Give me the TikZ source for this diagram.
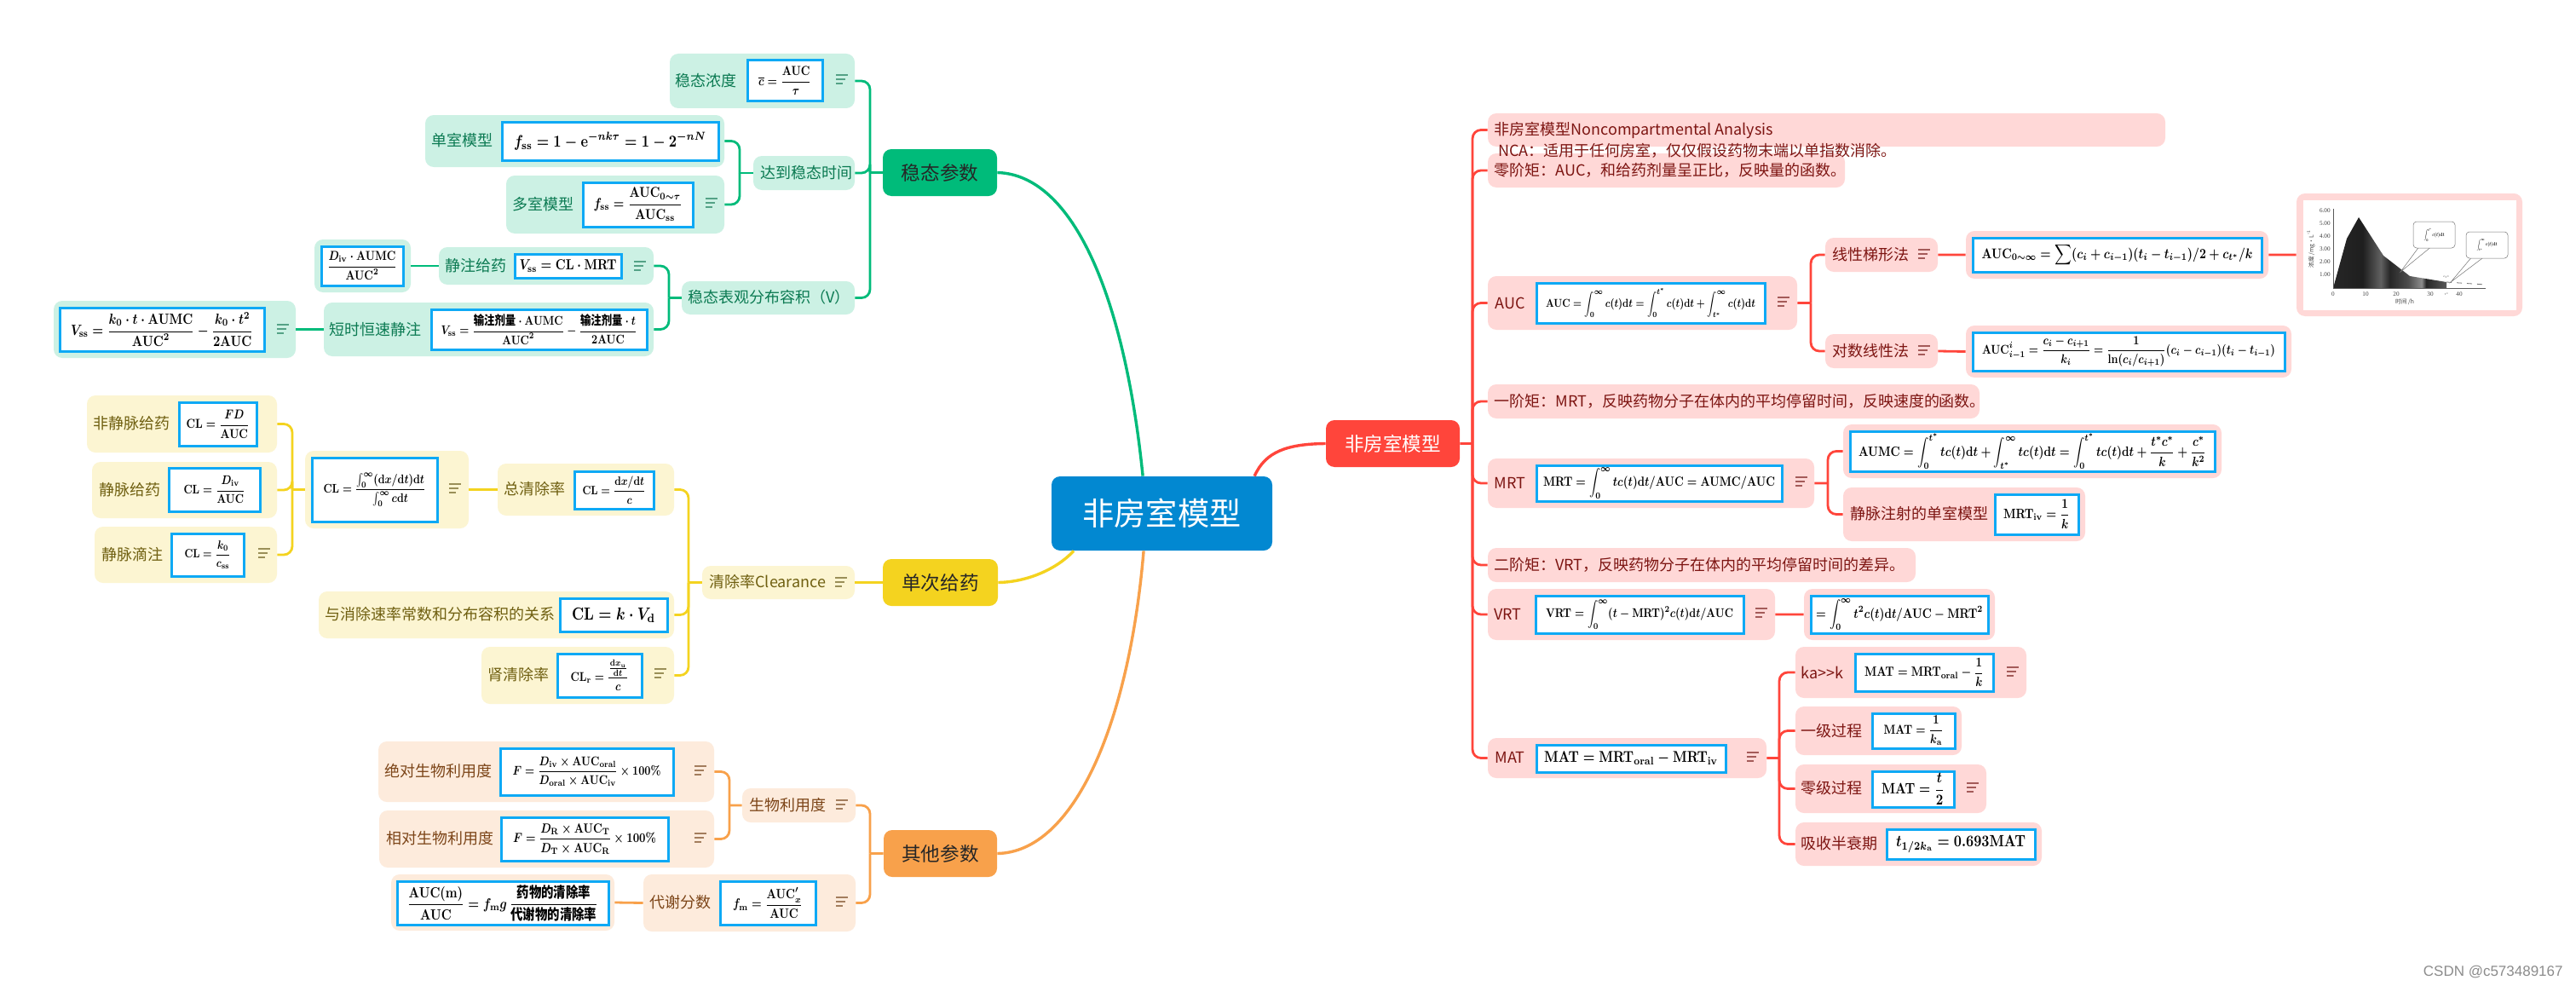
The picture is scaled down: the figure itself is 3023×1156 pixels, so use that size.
\documentclass[tikz,border=0pt]{standalone}
\usepackage[no-math]{fontspec}
\usepackage{amsmath,amssymb,graphicx}
\setmainfont{Noto Sans CJK SC}
\newfontfamily\chartfont{Liberation Serif}
\newfontfamily\markfont{Liberation Sans}
\usetikzlibrary{positioning}

\definecolor{rootblue}{HTML}{0288D1}
\definecolor{boxblue}{HTML}{0EA9F5}
\definecolor{gmaincol}{HTML}{00BB7A}
\definecolor{ymaincol}{HTML}{F4D31F}
\definecolor{omaincol}{HTML}{F8A14B}
\definecolor{rmaincol}{HTML}{FF453B}
\definecolor{gpale}{HTML}{CCF1E4}
\definecolor{ypale}{HTML}{FCF5D2}
\definecolor{opale}{HTML}{FDEBDC}
\definecolor{rpale}{HTML}{FFD8D7}
\definecolor{gtext}{HTML}{0B7A52}
\definecolor{ytext}{HTML}{6F5F10}
\definecolor{otext}{HTML}{7C4518}
\definecolor{rtext}{HTML}{7D1512}

\newcommand{\fml}[2]{\scalebox{1}[1.2]{\resizebox{#1pt}{!}{\boldmath$\displaystyle #2$}}}
\newcommand{\tAUC}{\mathrm{AUC}}
\newcommand{\tAUMC}{\mathrm{AUMC}}
\newcommand{\tCL}{\mathrm{CL}}
\newcommand{\tMRT}{\mathrm{MRT}}
\newcommand{\tMAT}{\mathrm{MAT}}
\newcommand{\tVRT}{\mathrm{VRT}}
\newcommand{\ud}{\mathrm{d}}
\newcommand{\dose}{\mbox{\bfseries 输注剂量}}
\pgfdeclarehorizontalshading{chartband}{100bp}{color(0bp)=(black!85);color(25bp)=(black!85);
  color(38bp)=(black!88);color(46bp)=(black!62);color(50bp)=(black!85);color(58bp)=(black!70);
  color(64bp)=(black!45);color(66bp)=(black!85);color(75bp)=(black!65);color(100bp)=(black!65)}

\tikzstyle{gpill} = [rectangle, fill=gpale, rounded corners=5pt, inner sep=0pt]
\tikzstyle{ypill} = [rectangle, fill=ypale, rounded corners=5pt, inner sep=0pt]
\tikzstyle{opill} = [rectangle, fill=opale, rounded corners=5pt, inner sep=0pt]
\tikzstyle{rpill} = [rectangle, fill=rpale, rounded corners=5pt, inner sep=0pt]
\tikzstyle{fbox} = [rectangle, draw=boxblue, line width=1.5pt, fill=white, inner sep=0pt]
\tikzstyle{mainbox} = [rectangle, rounded corners=5pt, inner sep=0pt,
    font=\fontsize{11.3}{13}\selectfont]
\tikzstyle{glab} = [anchor=west, inner sep=0pt, text=gtext, font=\fontsize{9}{11}\selectfont]
\tikzstyle{ylab} = [anchor=west, inner sep=0pt, text=ytext, font=\fontsize{9}{11}\selectfont]
\tikzstyle{olab} = [anchor=west, inner sep=0pt, text=otext, font=\fontsize{9}{11}\selectfont]
\tikzstyle{rlab} = [anchor=west, inner sep=0pt, text=rtext, font=\fontsize{9}{11}\selectfont]
\tikzstyle{gline} = [draw=gmaincol, line width=1.4pt]
\tikzstyle{yline} = [draw=ymaincol, line width=1.4pt]
\tikzstyle{oline} = [draw=omaincol, line width=1.4pt]
\tikzstyle{rline} = [draw=rmaincol, line width=1.4pt]
\tikzstyle{ticktxt} = [inner sep=0pt, text=black!75, font=\chartfont\fontsize{3.6}{4}\selectfont]
\tikzstyle{axistxt} = [inner sep=0pt, text=black!75, font=\fontsize{3.4}{4}\selectfont]
\tikzstyle{bubble} = [inner sep=0pt, draw=black!55, fill=white, line width=0.25pt, rounded corners=2pt]
\tikzset{
  wh/.style 2 args={minimum width=#1*0.5pt, minimum height=#2*0.5pt},
  elbow/.style={rounded corners=5pt, to path={|- (\tikztotarget)}},
  notes/.pic={
    \draw[line width=0.75pt] (-7,-5) -- (7,-5);
    \draw[line width=0.75pt] (-7,0) -- (4,0);
    \draw[line width=0.75pt] (-7,5) -- (1,5);
  }
}

\begin{document}
\begin{tikzpicture}[x=0.5pt,y=-0.5pt]
  \path[use as bounding box,fill=white] (0,0) rectangle (3023,1156);

  % centre and main topics
  \node[mainbox,fill=rootblue,text=white,wh={259}{87},font=\fontsize{18.6}{22}\selectfont]
        (root) at (1363.5,602.5) {非房室模型};
  \node[mainbox,fill=gmaincol,text=black!85,wh={134}{55}] (steady) at (1103,202.5) {稳态参数};
  \node[mainbox,fill=ymaincol,text=black!85,wh={135}{55}] (single) at (1103.5,683.5) {单次给药};
  \node[mainbox,fill=omaincol,text=black!85,wh={133}{55}] (other) at (1103.5,1001.5) {其他参数};
  \node[mainbox,fill=rmaincol,text=white,wh={157}{55}] (nca) at (1634.5,520.5) {非房室模型};

  % steady state
  \node[gpill,wh={217}{64}] (cavg) at (894.5,95) {};
  \node[glab] (cavgl) at (792,95) {稳态浓度};
  \node[fbox,wh={88}{48}] (cavgf) at (921,95) {\fml{31}{\overline{c}=\frac{\tAUC}{\tau}}};
  \pic[color=gtext!70] at (988,93) {notes};

  \node[gpill,wh={119}{40}] (reach) at (943.5,203) {};
  \node[glab] (reachl) at (892,203) {达到稳态时间};

  \node[gpill,wh={351}{61}] (fone) at (674.5,165.5) {};
  \node[glab] (fonel) at (506,165) {单室模型};
  \node[fbox,wh={254}{45}] (fonef) at (716,165.5)
       {\fml{113}{f_{\mathrm{ss}}=1-\mathrm{e}^{-nk\tau}=1-2^{-nN}}};

  \node[gpill,wh={256}{68}] (fmulti) at (722,240) {};
  \node[glab] (fmultil) at (601,240) {多室模型};
  \node[fbox,wh={129}{52}] (fmultif) at (748.5,240)
       {\fml{52}{f_{\mathrm{ss}}=\frac{\tAUC_{0\sim\tau}}{\tAUC_{\mathrm{ss}}}}};
  \pic[color=gtext!70] at (835,238) {notes};

  \node[gpill,wh={203}{39}] (vol) at (901.5,349.5) {};
  \node[glab] (voll) at (807,349) {稳态表观分布容积（V）};

  \node[gpill,wh={252}{44}] (viv) at (641,312) {};
  \node[glab] (vivl) at (522,312) {静注给药};
  \node[fbox,wh={125}{28}] (vivf) at (666.5,312)
       {\fml{57}{V_{\mathrm{ss}}=\tCL\cdot\tMRT}};
  \pic[color=gtext!70] at (751,312) {notes};

  \node[gpill,wh={113}{62}] (divp) at (425.5,312) {};
  \node[fbox,wh={96}{46}] (divf) at (425,312)
       {\fml{41}{\frac{D_{\mathrm{iv}}\cdot\tAUMC}{\tAUC^2}}};

  \node[gpill,wh={387}{63}] (vinf) at (573.5,386.5) {};
  \node[glab] (vinfl) at (386,387) {短时恒速静注};
  \node[fbox,wh={253}{47}] (vinff) at (632.5,386.5)
       {\fml{115}{V_{\mathrm{ss}}=\frac{\dose\cdot\tAUMC}{\tAUC^2}-\frac{\dose\cdot t}{2\tAUC}}};

  \node[gpill,wh={284}{67}] (vkz) at (205,386.5) {};
  \node[fbox,wh={240}{51}] (vkzf) at (190,386.5)
       {\fml{107}{V_{\mathrm{ss}}=\frac{k_0\cdot t\cdot\tAUMC}{\tAUC^2}-\frac{k_0\cdot t^2}{2\tAUC}}};
  \pic[color=gtext!70] at (332,386) {notes};

  % single dose
  \node[ypill,wh={179}{39}] (clear) at (913.5,683.5) {};
  \node[ylab] (clearl) at (832,683) {清除率Clearance};
  \pic[color=ytext!70] at (987,683) {notes};

  \node[ypill,wh={207}{61}] (cltot) at (687.5,574.5) {};
  \node[ylab] (cltotl) at (591,574) {总清除率};
  \node[fbox,wh={93}{44}] (cltotf) at (720.5,575)
       {\fml{37}{\tCL=\frac{\ud x/\ud t}{c}}};

  \node[ypill,wh={192}{91}] (clint) at (454,574.5) {};
  \node[fbox,wh={147}{75}] (clintf) at (439.5,574.5)
       {\fml{60}{\tCL=\frac{\int_0^\infty(\ud x/\ud t)\ud t}{\int_0^\infty c\ud t}}};
  \pic[color=ytext!70] at (534,573) {notes};

  \node[ypill,wh={223}{67}] (clnon) at (213.5,497.5) {};
  \node[ylab] (clnonl) at (109,497) {非静脉给药};
  \node[fbox,wh={91}{51}] (clnonf) at (255.5,497.5) {\fml{37}{\tCL=\frac{FD}{\tAUC}}};

  \node[ypill,wh={217}{66}] (cliv) at (216.5,575) {};
  \node[ylab] (clivl) at (116,575) {静脉给药};
  \node[fbox,wh={107}{51}] (clivf) at (251.5,574.5)
       {\fml{36}{\tCL=\frac{D_{\mathrm{iv}}}{\tAUC}}};

  \node[ypill,wh={214}{66}] (cldrip) at (218,651) {};
  \node[ylab] (cldripl) at (119,651) {静脉滴注};
  \node[fbox,wh={85}{50}] (cldripf) at (243.5,651)
       {\fml{27}{\tCL=\frac{k_0}{c_{\mathrm{ss}}}}};
  \pic[color=ytext!70] at (310,649) {notes};

  \node[ypill,wh={417}{55}] (clk) at (582.5,721.5) {};
  \node[ylab] (clkl) at (381,721) {与消除速率常数和分布容积的关系};
  \node[fbox,wh={126}{39}] (clkf) at (720,721.5) {\fml{49}{\tCL=k\cdot V_{\mathrm{d}}}};

  \node[ypill,wh={226}{67}] (clren) at (678,792.5) {};
  \node[ylab] (clrenl) at (572,792) {肾清除率};
  \node[fbox,wh={99}{51}] (clrenf) at (703.5,792.5)
       {\fml{34}{\tCL_{\mathrm{r}}=\frac{\frac{\ud x_{\mathrm{u}}}{\ud t}}{c}}};
  \pic[color=ytext!70] at (775,790) {notes};

  % other parameters
  \node[opill,wh={133}{40}] (bio) at (937.5,945) {};
  \node[olab] (biol) at (879,945) {生物利用度};
  \pic[color=otext!70] at (988,944) {notes};

  \node[opill,wh={394}{71}] (babs) at (641,905.5) {};
  \node[olab] (babsl) at (451,905) {绝对生物利用度};
  \node[fbox,wh={203}{55}] (babsf) at (688.5,905.5)
       {\fml{87}{F=\frac{D_{\mathrm{iv}}\times\tAUC_{\mathrm{oral}}}{D_{\mathrm{oral}}\times\tAUC_{\mathrm{iv}}}\times 100\%}};
  \pic[color=otext!70] at (822,904) {notes};

  \node[opill,wh={393}{67}] (brel) at (641.5,984.5) {};
  \node[olab] (brell) at (453,984) {相对生物利用度};
  \node[fbox,wh={196}{51}] (brelf) at (686,984.5)
       {\fml{84}{F=\frac{D_{\mathrm{R}}\times\tAUC_{\mathrm{T}}}{D_{\mathrm{T}}\times\tAUC_{\mathrm{R}}}\times 100\%}};
  \pic[color=otext!70] at (822,983) {notes};

  \node[opill,wh={249}{67}] (meta) at (879.5,1059.5) {};
  \node[olab] (metal) at (762,1059) {代谢分数};
  \node[fbox,wh={112}{51}] (metaf) at (901,1059.5)
       {\fml{41}{f_{\mathrm{m}}=\frac{\tAUC'_x}{\tAUC}}};
  \pic[color=otext!70] at (988,1058) {notes};

  \node[opill,wh={262}{66}] (mrat) at (590,1059) {};
  \node[fbox,wh={248}{51}] (mratf) at (590,1059.5)
       {\fml{112}{\frac{\tAUC(\mathrm{m})}{\tAUC}=f_{\mathrm{m}}g\,\frac{\mbox{\bfseries 药物的清除率}}{\mbox{\bfseries 代谢物的清除率}}}};

  % non-compartment model
  \node[rpill,wh={419}{40}] (mzero) at (1955.5,200) {};
  \node[rlab] (mzerol) at (1753,200) {零阶矩：AUC，和给药剂量呈正比，反映量的函数。};
  \node[rpill,wh={795}{39}] (ncat) at (2143.5,152.5) {};
  \node[rlab] (ncatl) at (1753,153) {非房室模型Noncompartmental Analysis};
  \node[rlab] (ncatm) at (1758,177) {NCA：适用于任何房室，仅仅假设药物末端以单指数消除。};

  \node[rpill,wh={363}{63}] (auc) at (1927.5,355.5) {};
  \node[rlab] (aucl) at (1754,356) {AUC};
  \node[fbox,wh={268}{47}] (aucf) at (1937,355.5)
       {\fml{123}{\tAUC=\int_0^\infty c(t)\ud t=\int_0^{t^*}c(t)\ud t+\int_{t^*}^\infty c(t)\ud t}};
  \pic[color=rtext!70] at (2093,354) {notes};

  \node[rpill,wh={132}{40}] (lintr) at (2208,299) {};
  \node[rlab] (lintrl) at (2150,299) {线性梯形法};
  \pic[color=rtext!70] at (2258,298) {notes};
  \node[rpill,wh={355}{56}] (lintrv) at (2484.5,299) {};
  \node[fbox,wh={339}{40}] (lintrf) at (2484.5,299)
       {\fml{159}{\tAUC_{0\sim\infty}=\sum(c_i+c_{i-1})(t_i-t_{i-1})/2+c_{t^*}/k}};

  \node[rpill,wh={132}{40}] (logtr) at (2208,412) {};
  \node[rlab] (logtrl) at (2150,412) {对数线性法};
  \pic[color=rtext!70] at (2258,411) {notes};
  \node[rpill,wh={382}{61}] (logtrv) at (2498,412.5) {};
  \node[fbox,wh={366}{45}] (logtrf) at (2498,412.5)
       {\fml{172}{\tAUC_{i-1}^{i}=\frac{c_i-c_{i+1}}{k_i}=\frac{1}{\ln(c_i/c_{i+1})}(c_i-c_{i-1})(t_i-t_{i-1})}};

  \node[rpill,wh={265}{144}] (chart) at (2827.5,299) {};
  \node[rectangle,fill=white,inner sep=0pt,wh={250}{129}] (chartin) at (2828,299.5) {};

  \node[rpill,wh={577}{40}] (mone) at (2034.5,471) {};
  \node[rlab] (monel) at (1753,471) {一阶矩：MRT，反映药物分子在体内的平均停留时间，反映速度的函数。};

  \node[rpill,wh={383}{58}] (mrt) at (1937.5,567) {};
  \node[rlab] (mrtl) at (1753,567) {MRT};
  \node[fbox,wh={288}{42}] (mrtf) at (1947,567)
       {\fml{136}{\tMRT=\int_0^\infty tc(t)\ud t/\tAUC=\tAUMC/\tAUC}};
  \pic[color=rtext!70] at (2114,565) {notes};

  \node[rpill,wh={444}{63}] (aumc) at (2385,529.5) {};
  \node[fbox,wh={428}{47}] (aumcf) at (2385,529.5)
       {\fml{204}{\tAUMC=\int_0^{t^*}tc(t)\ud t+\int_{t^*}^\infty tc(t)\ud t=\int_0^{t^*}tc(t)\ud t+\frac{t^*c^*}{k}+\frac{c^*}{k^2}}};

  \node[rpill,wh={284}{63}] (mrtiv) at (2305,603.5) {};
  \node[rlab] (mrtivl) at (2171,603) {静脉注射的单室模型};
  \node[fbox,wh={98}{47}] (mrtivf) at (2390,603.5)
       {\fml{39}{\tMRT_{\mathrm{iv}}=\frac{1}{k}}};

  \node[rpill,wh={502}{40}] (mtwo) at (1997,663) {};
  \node[rlab] (mtwol) at (1753,663) {二阶矩：VRT，反映药物分子在体内的平均停留时间的差异。};

  \node[rpill,wh={337}{60}] (vrt) at (1914.5,721) {};
  \node[rlab] (vrtl) at (1753,721) {VRT};
  \node[fbox,wh={244}{44}] (vrtf) at (1924,721)
       {\fml{110}{\tVRT=\int_0^\infty(t-\tMRT)^2c(t)\ud t/\tAUC}};
  \pic[color=rtext!70] at (2067,719) {notes};

  \node[rpill,wh={224}{60}] (vrtv) at (2229,721) {};
  \node[fbox,wh={208}{44}] (vrtvf) at (2229,721)
       {\fml{98}{=\int_0^\infty t^2c(t)\ud t/\tAUC-\tMRT^2}};

  \node[rpill,wh={327}{47}] (mat) at (1909.5,889.5) {};
  \node[rlab] (matl) at (1754,889) {MAT};
  \node[fbox,wh={222}{32}] (matf) at (1914,890)
       {\fml{102}{\tMAT=\tMRT_{\mathrm{oral}}-\tMRT_{\mathrm{iv}}}};
  \pic[color=rtext!70] at (2057,888) {notes};

  \node[rpill,wh={271}{60}] (matka) at (2242.5,789) {};
  \node[rlab] (matkal) at (2113,789) {ka{>}{>}k};
  \node[fbox,wh={162}{44}] (matkaf) at (2258,789)
       {\fml{70}{\tMAT=\tMRT_{\mathrm{oral}}-\frac{1}{k}}};
  \pic[color=rtext!70] at (2362,788) {notes};

  \node[rpill,wh={195}{57}] (matfo) at (2204.5,857.5) {};
  \node[rlab] (matfol) at (2113,858) {一级过程};
  \node[fbox,wh={97}{41}] (matfof) at (2245.5,857.5) {\fml{35}{\tMAT=\frac{1}{k_{\mathrm{a}}}}};

  \node[rpill,wh={224}{57}] (matzo) at (2219,925.5) {};
  \node[rlab] (matzol) at (2113,925) {零级过程};
  \node[fbox,wh={96}{42}] (matzof) at (2245,926) {\fml{37}{\tMAT=\frac{t}{2}}};
  \pic[color=rtext!70] at (2315,924) {notes};

  \node[rpill,wh={289}{51}] (mathl) at (2251.5,990.5) {};
  \node[rlab] (mathll) at (2113,990) {吸收半衰期};
  \node[fbox,wh={174}{35}] (mathlf) at (2301,990.5)
       {\fml{76}{t_{1/2k_{\mathrm{a}}}=0.693\tMAT}};

  % concentration curve
  \path[shading=chartband] (2738,338) -- (2754,280) -- (2768,255) -- (2797,300) -- (2828,324)
       -- (2871,331) -- (2871,338) -- cycle;
  \draw[black!65,line width=0.25pt] (2738,245) -- (2738,338) -- (2917,338);
  \draw[black!55,dashed,line width=0.4pt] (2871,331) -- (2917,334);
  \foreach \v/\py in {1/322,2/307,3/292,4/277,5/262,6/247}
    \node[ticktxt,anchor=east] (yt\v) at (2735,\py) {\v.00};
  \foreach \v/\px in {0/2738,10/2776,20/2812,30/2852,40/2886}
    \node[ticktxt] (xt\v) at (\px,345) {\v};
  \node[ticktxt] (xtstar) at (2871,345) {\resizebox{2.5pt}{!}{$t^*$}};
  \node[ticktxt] (cstar) at (2871,325) {\resizebox{4pt}{!}{$c_{t^*}$}};
  \node[axistxt] (xname) at (2822,354) {时间 /h};
  \node[axistxt,rotate=90] (yname) at (2712,292) {浓度 /mg·L\textsuperscript{−1}};
  \filldraw[fill=white,draw=black!55,line width=0.25pt] (2840,288) -- (2817,319) -- (2855,288) -- cycle;
  \filldraw[fill=white,draw=black!55,line width=0.25pt] (2902,300) -- (2876,331) -- (2917,300) -- cycle;
  \node[bubble,wh={49}{31}] (callone) at (2856.5,275.5) {\fml{12}{\int_0^{t^*}c(t)\ud t}};
  \node[bubble,wh={49}{31}] (calltwo) at (2918.5,287.5) {\fml{12}{\int_{t^*}^{\infty}c(t)\ud t}};

  \node[inner sep=0pt,anchor=east,text=black!45,font=\markfont\fontsize{8.5}{10}\selectfont] (wmark)
       at (3008,1141) {CSDN @c573489167};

  % connectors
  \coordinate (gbar) at (1021,202.5);
  \coordinate (gbarb) at (868,203);
  \coordinate (gbarc) at (785,349.5);
  \coordinate (ybar) at (808,683.5);
  \coordinate (ybarb) at (343,574.5);
  \coordinate (obar) at (1021,1001.5);
  \coordinate (obarb) at (856,945);
  \coordinate (rbar) at (1728,520.5);
  \coordinate (rbarb) at (2125,355.5);
  \coordinate (rbarc) at (2145,567);
  \coordinate (rbard) at (2088,889.5);

  \path[gline] (steady.west) -- (gbar) edge[elbow] (cavg.east) edge[elbow] (reach.east)
       edge[elbow] (vol.east) (reach.west) -- (gbarb) edge[elbow] (fone.east) edge[elbow] (fmulti.east)
       (vol.west) -- (gbarc) edge[elbow] (viv.east) edge[elbow] (vinf.east)
       (viv.west) -- (divp.east) (vinf.west) -- (vkz.east);
  \path[yline] (single.west) -- (clear.east) (clear.west) -- (ybar) edge[elbow] (cltot.east)
       edge[elbow] (clk.east) edge[elbow] (clren.east)
       (cltot.west) -- (clint.east) (clint.west) -- (ybarb) edge[elbow] (clnon.east)
       edge[elbow] (cliv.east) edge[elbow] (cldrip.east);
  \path[oline] (other.west) -- (obar) edge[elbow] (bio.east) edge[elbow] (meta.east)
       (bio.west) -- (obarb) edge[elbow] (babs.east) edge[elbow] (brel.east)
       (meta.west) -- (mrat.east);
  \path[rline] (nca.east) -- (rbar) edge[elbow] (ncat.west) edge[elbow] (mzero.west)
       edge[elbow] (auc.west) edge[elbow] (mone.west) edge[elbow] (mrt.west)
       edge[elbow] (mtwo.west) edge[elbow] (vrt.west) edge[elbow] (mat.west)
       (auc.east) -- (rbarb) edge[elbow] (lintr.west) edge[elbow] (logtr.west)
       (lintr.east) -- (lintrv.west) (lintrv.east) -- (chart.west) (logtr.east) -- (logtrv.west)
       (mrt.east) -- (rbarc) edge[elbow] (aumc.west) edge[elbow] (mrtiv.west)
       (vrt.east) -- (vrtv.west)
       (mat.east) -- (rbard) edge[elbow] (matka.west) edge[elbow] (matfo.west)
       edge[elbow] (matzo.west) edge[elbow] (mathl.west);

  \draw[gmaincol,line width=1.7pt] (steady.east) .. controls (1260,205) and (1320,350) .. (root.117);
  \draw[ymaincol,line width=1.7pt] (single.east) .. controls (1205,683) and (1240,668) .. (root.203);
  \draw[omaincol,line width=1.7pt] (other.east) .. controls (1260,1000) and (1325,850) .. (root.244);
  \draw[rmaincol,line width=1.7pt] (nca.west) .. controls (1510,521) and (1485,530) .. (root.22);
\end{tikzpicture}
\end{document}
